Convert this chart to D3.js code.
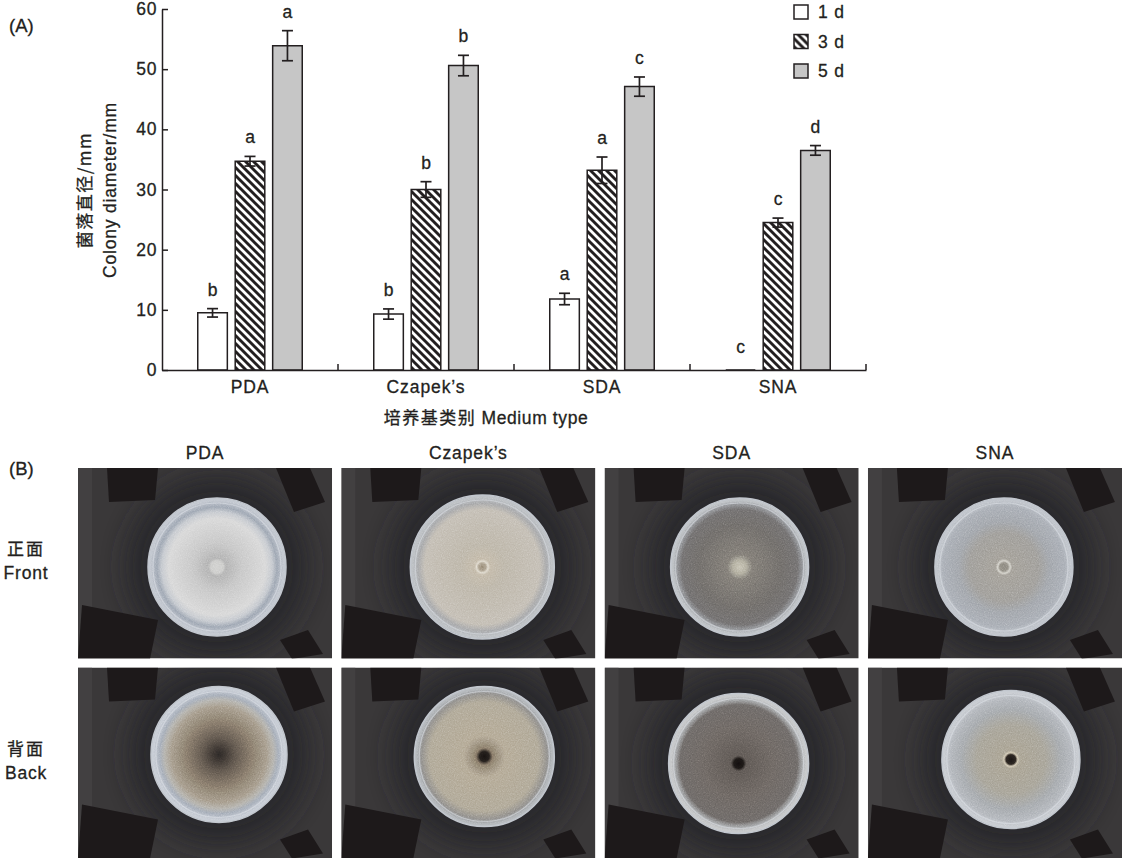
<!DOCTYPE html>
<html>
<head>
<meta charset="utf-8">
<script src="https://cdn.jsdelivr.net/npm/d3@7"></script>
<style>
  body { margin: 0; background: #fff; }
  text { paint-order: stroke; }
</style>
</head>
<body>
<svg id="fig" width="1134" height="860"></svg>
<script>
// chart values
const media = ["PDA", "Czapek\u2019s", "SDA", "SNA"];
const days = ["1 d", "3 d", "5 d"];
const mean1d = [9.5, 9.3, 11.8, 0];
const mean3d = [34.7, 30.0, 33.2, 24.5];
const mean5d = [53.9, 50.6, 47.1, 36.5];
const err1d = [0.7, 0.85, 0.95, 0];
const err3d = [0.8, 1.3, 2.2, 0.75];
const err5d = [2.5, 1.7, 1.6, 0.8];
const sig1d = ["b", "b", "a", "c"];
const sig3d = ["a", "b", "a", "c"];
const sig5d = ["a", "b", "c", "d"];
const yTicks = [0, 10, 20, 30, 40, 50, 60];
const rowCN = ["正面", "背面"];
const rowEN = ["Front", "Back"];

const ink = "#231f20";
const latin = "'Liberation Sans', Arial, Helvetica, sans-serif";
const cjk = "'Noto Sans CJK SC', 'Liberation Sans', sans-serif";

const svg = d3.select("#fig");
svg.append("rect").attr("width", 1134).attr("height", 860).attr("fill", "#fff");
const defs = svg.append("defs");

// slightly heavier text like the print
function label(sel, family, size, spacing) {
  return sel.attr("font-family", family).attr("font-size", size)
    .attr("letter-spacing", spacing).attr("fill", ink)
    .attr("stroke", ink).attr("stroke-width", 0.3);
}

// black bar with white "\" stripes
const hatch = defs.append("pattern")
  .attr("id", "hatch")
  .attr("patternUnits", "userSpaceOnUse")
  .attr("width", 8).attr("height", 8);
hatch.append("rect").attr("width", 8).attr("height", 8).attr("fill", ink);
hatch.append("path")
  .attr("d", "M-2,-2L10,10M-2,6L2,10M6,-2L10,2")
  .attr("stroke", "#fff").attr("stroke-width", 2.8);

const fills = { "1 d": "#ffffff", "3 d": "url(#hatch)", "5 d": "#c6c6c6" };

// ---------- (A) bar chart ----------
const x0 = d3.scaleBand().domain(media).range([162, 866]);
const x1 = d3.scaleBand().domain(days).range([35.75, 140.25]).paddingInner(0.21);
const y = d3.scaleLinear().domain([0, 60]).range([370, 9]);

const means = [mean1d, mean3d, mean5d];
const errs = [err1d, err3d, err5d];
const sigs = [sig1d, sig3d, sig5d];
const bars = [];
days.forEach((d, k) => {
  media.forEach((m, i) => {
    bars.push({ m: m, d: d, v: means[k][i], e: errs[k][i], s: sigs[k][i] });
  });
});

const chart = svg.append("g");

chart.selectAll("path.bar")
  .data(bars).enter()
  .append("path")
  .attr("class", "bar")
  .attr("d", b => {
    const xa = x0(b.m) + x1(b.d), xb = xa + x1.bandwidth();
    return "M" + xa + "," + y(0) + "V" + y(b.v) + "H" + xb + "V" + y(0) + "Z";
  })
  .attr("fill", b => fills[b.d])
  .attr("stroke", ink)
  .attr("stroke-width", 1.5);

const withErr = bars.filter(b => b.e > 0);
const cx = b => x0(b.m) + x1(b.d) + x1.bandwidth() / 2;
const eb = chart.selectAll("g.err").data(withErr).enter().append("g")
  .attr("class", "err")
  .attr("stroke", ink).attr("stroke-width", 1.7);
eb.append("line")
  .attr("x1", cx).attr("x2", cx)
  .attr("y1", b => y(b.v + b.e)).attr("y2", b => y(b.v - b.e));
eb.append("line")
  .attr("x1", b => cx(b) - 5.5).attr("x2", b => cx(b) + 5.5)
  .attr("y1", b => y(b.v + b.e)).attr("y2", b => y(b.v + b.e));
eb.append("line")
  .attr("x1", b => cx(b) - 5.5).attr("x2", b => cx(b) + 5.5)
  .attr("y1", b => y(b.v - b.e)).attr("y2", b => y(b.v - b.e));

label(chart.selectAll("text.sig")
  .data(bars).enter()
  .append("text")
  .attr("class", "sig")
  .attr("x", cx)
  .attr("y", b => y(b.v + b.e) - (b.v > 0 ? 13 : 17))
  .attr("text-anchor", "middle"), latin, 17.5, 0)
  .text(b => b.s);

// y axis, ticks point inward
const yAxis = chart.append("g")
  .attr("transform", "translate(162,0)")
  .call(d3.axisLeft(y).tickValues(yTicks).tickSize(-6).tickSizeOuter(0).tickPadding(5));
yAxis.select(".domain").attr("stroke", ink).attr("stroke-width", 1.5);
yAxis.selectAll(".tick line").attr("stroke", ink).attr("stroke-width", 1.5);
label(yAxis.selectAll(".tick text"), latin, 17.5, 0.6);

// x axis with category labels
const xAxis = chart.append("g")
  .attr("transform", "translate(0,370)")
  .call(d3.axisBottom(x0).tickSize(0).tickSizeOuter(0).tickPadding(11));
xAxis.select(".domain").attr("stroke", ink).attr("stroke-width", 1.5);
label(xAxis.selectAll(".tick text"), latin, 17.5, 0.9);
// little upward ticks between categories
chart.selectAll("line.sep")
  .data(media).enter()
  .append("line")
  .attr("class", "sep")
  .attr("x1", m => x0(m) + x0.bandwidth()).attr("x2", m => x0(m) + x0.bandwidth())
  .attr("y1", 370).attr("y2", 364)
  .attr("stroke", ink).attr("stroke-width", 1.5);

// axis titles
const yl = chart.append("g").attr("transform", "translate(0,190) rotate(-90)");
label(yl.append("text")
  .attr("x", 0).attr("y", 91)
  .attr("text-anchor", "middle"), cjk, 17, 1.5)
  .text("菌落直径/mm");
label(yl.append("text")
  .attr("x", 0).attr("y", 116)
  .attr("text-anchor", "middle"), latin, 17.5, 0.8)
  .text("Colony diameter/mm");

const xt = label(chart.append("text")
  .attr("x", 486).attr("y", 424)
  .attr("text-anchor", "middle"), latin, 17.5, 0.6);
xt.append("tspan").attr("font-family", cjk).attr("font-size", 17).attr("letter-spacing", 1.5).text("培养基类别 ");
xt.append("tspan").text("Medium type");

// legend
const leg = chart.selectAll("g.leg")
  .data(days).enter()
  .append("g")
  .attr("class", "leg")
  .attr("transform", (d, k) => "translate(794," + (5 + k * 29.5) + ")");
leg.append("rect")
  .attr("width", 14).attr("height", 14)
  .attr("fill", d => fills[d])
  .attr("stroke", ink).attr("stroke-width", 1.5);
label(leg.append("text")
  .attr("x", 24).attr("y", 13), latin, 17.5, 0.8)
  .text(d => d);

label(svg.append("text").attr("x", 9).attr("y", 32), latin, 18.5, 0).text("(A)");

// ---------- (B) plate photos, drawn ----------
label(svg.append("text").attr("x", 9).attr("y", 475), latin, 18.5, 0).text("(B)");

const colX = d3.scaleBand().domain(media).range([78, 1122]).paddingInner(0.035);
const rowY = d3.scaleBand().domain(rowEN).range([468, 858]).paddingInner(0.045);

label(svg.selectAll("text.coltitle")
  .data(media).enter()
  .append("text")
  .attr("class", "coltitle")
  .attr("x", m => colX(m) + colX.bandwidth() / 2)
  .attr("y", 459)
  .attr("text-anchor", "middle"), latin, 17.5, 0.9)
  .text(m => m);

rowEN.forEach((r, j) => {
  const mid = rowY(r) + rowY.bandwidth() / 2;
  label(svg.append("text")
    .attr("x", 26).attr("y", mid - 8)
    .attr("text-anchor", "middle"), cjk, 17, 2)
    .text(rowCN[j]);
  label(svg.append("text")
    .attr("x", 26).attr("y", mid + 16)
    .attr("text-anchor", "middle"), latin, 17.5, 0.8)
    .text(r);
});

// colony looks: [stop offset, colour] from centre to rim
const looks = {
  "PDA|Front": [[0, "#cfcfcd"], [0.09, "#cacac8"], [0.13, "#aeaeae"], [0.35, "#c4c4c4"], [0.7, "#d6d6d6"], [0.8, "#c2c6cc"], [0.87, "#98a1ae"], [0.94, "#b4bac4"], [1, "#ccd1d8"]],
  "PDA|Back": [[0, "#2a2624"], [0.08, "#38322e"], [0.25, "#5c534a"], [0.5, "#837768"], [0.7, "#a09584"], [0.8, "#b0aea8"], [0.87, "#a0a8b4"], [0.94, "#bcc2cc"], [1, "#d0d5dc"]],
  "Czapek\u2019s|Front": [[0, "#928470"], [0.05, "#a69a86"], [0.08, "#ddd7ca"], [0.11, "#c0b6a4"], [0.3, "#b9b2a4"], [0.8, "#c0bab0"], [0.89, "#a2a3a5"], [0.95, "#b2b6ba"], [1, "#c6cace"]],
  "Czapek\u2019s|Back": [[0, "#161210"], [0.07, "#231e1b"], [0.12, "#827564"], [0.3, "#afa48f"], [0.78, "#aba391"], [0.9, "#8a8885"], [0.95, "#a4a8ac"], [1, "#c4c8cc"]],
  "SDA|Front": [[0, "#c4c0b0"], [0.1, "#aca898"], [0.18, "#7a7670"], [0.6, "#6a6764"], [0.84, "#6c6a6a"], [0.91, "#8a8c90"], [0.95, "#b0b4b8"], [1, "#cdd1d5"]],
  "SDA|Back": [[0, "#120e0e"], [0.07, "#1c1816"], [0.11, "#5a5450"], [0.5, "#68625e"], [0.84, "#686462"], [0.91, "#9ea0a2"], [0.95, "#bcbec0"], [1, "#d0d2d4"]],
  "SNA|Front": [[0, "#86827a"], [0.06, "#8c887e"], [0.09, "#d2d0c8"], [0.12, "#9e9a92"], [0.5, "#9a9894"], [0.66, "#9ca0a6"], [0.88, "#a4a9b1"], [0.95, "#b8bdc4"], [1, "#c8ccd3"]],
  "SNA|Back": [[0, "#1a1614"], [0.07, "#2a2420"], [0.1, "#cec4ae"], [0.13, "#a49d8c"], [0.5, "#a29e92"], [0.72, "#a0a4a8"], [0.88, "#aeb2b8"], [0.95, "#c0c4ca"], [1, "#d0d4d9"]]
};
// plate centre (inside the photo) and radius
const dish = {
  "PDA|Front": [139, 99, 69], "PDA|Back": [141, 87, 68],
  "Czapek\u2019s|Front": [141, 99, 72], "Czapek\u2019s|Back": [143, 89, 70],
  "SDA|Front": [135, 99, 69], "SDA|Back": [134, 96, 70],
  "SNA|Front": [136, 99, 69], "SNA|Back": [143, 92, 69]
};
// dark holder pieces around each plate
const holder = [
  [[29, 0], [80, 0], [77, 32], [31, 34]],
  [[198, 0], [232, 0], [247, 34], [216, 44]],
  [[4, 137], [80, 152], [72, 191], [0, 191]],
  [[202, 172], [230, 162], [245, 186], [214, 191]]
];

const grain = defs.append("filter").attr("id", "grain")
  .attr("x", 0).attr("y", 0).attr("width", 1).attr("height", 1);
grain.append("feTurbulence").attr("type", "fractalNoise")
  .attr("baseFrequency", 0.85).attr("numOctaves", 2).attr("seed", 4).attr("result", "n");
grain.append("feColorMatrix").attr("in", "n").attr("type", "saturate").attr("values", 0).attr("result", "g");
grain.append("feComposite").attr("in", "g").attr("in2", "SourceAlpha").attr("operator", "in");

const soft = defs.append("filter").attr("id", "soft")
  .attr("x", -0.4).attr("y", -0.4).attr("width", 1.8).attr("height", 1.8);
soft.append("feGaussianBlur").attr("stdDeviation", 12);

const bw = colX.bandwidth(), bh = rowY.bandwidth();
media.forEach(m => {
  rowEN.forEach(r => {
    const key = m + "|" + r;
    const id = "p" + media.indexOf(m) + rowEN.indexOf(r);
    const g = svg.append("g").attr("transform", "translate(" + colX(m) + "," + rowY(r) + ")");
    defs.append("clipPath").attr("id", "c" + id)
      .append("rect").attr("width", bw).attr("height", bh);
    const gr = defs.append("radialGradient").attr("id", "g" + id);
    gr.selectAll("stop").data(looks[key]).enter().append("stop")
      .attr("offset", s => s[0]).attr("stop-color", s => s[1]);

    const p = g.append("g").attr("clip-path", "url(#c" + id + ")");
    p.append("rect").attr("width", bw).attr("height", bh).attr("fill", "#3a3839");
    p.append("rect").attr("width", 14).attr("height", bh).attr("fill", "#424041");
    const [dx, dy, rr] = dish[key];
    p.append("circle").attr("cx", dx).attr("cy", dy).attr("r", rr + 22)
      .attr("fill", "#28252a").attr("opacity", 0.85).attr("filter", "url(#soft)");
    p.selectAll("polygon").data(holder).enter().append("polygon")
      .attr("points", pts => pts.map(q => q.join(",")).join(" "))
      .attr("fill", "#1d191a");
    p.append("circle").attr("cx", dx).attr("cy", dy).attr("r", rr)
      .attr("fill", "url(#g" + id + ")")
      .attr("stroke", "#c2c7ce").attr("stroke-width", 1.5);
    p.append("circle").attr("cx", dx).attr("cy", dy).attr("r", rr - 2)
      .attr("fill", "#000").attr("filter", "url(#grain)")
      .style("mix-blend-mode", "overlay").attr("opacity", 0.5);
    p.append("circle").attr("cx", dx).attr("cy", dy).attr("r", rr - 5)
      .attr("fill", "none").attr("stroke", "rgba(225,230,236,0.5)").attr("stroke-width", 1.2);
  });
});
</script>
</body>
</html>
